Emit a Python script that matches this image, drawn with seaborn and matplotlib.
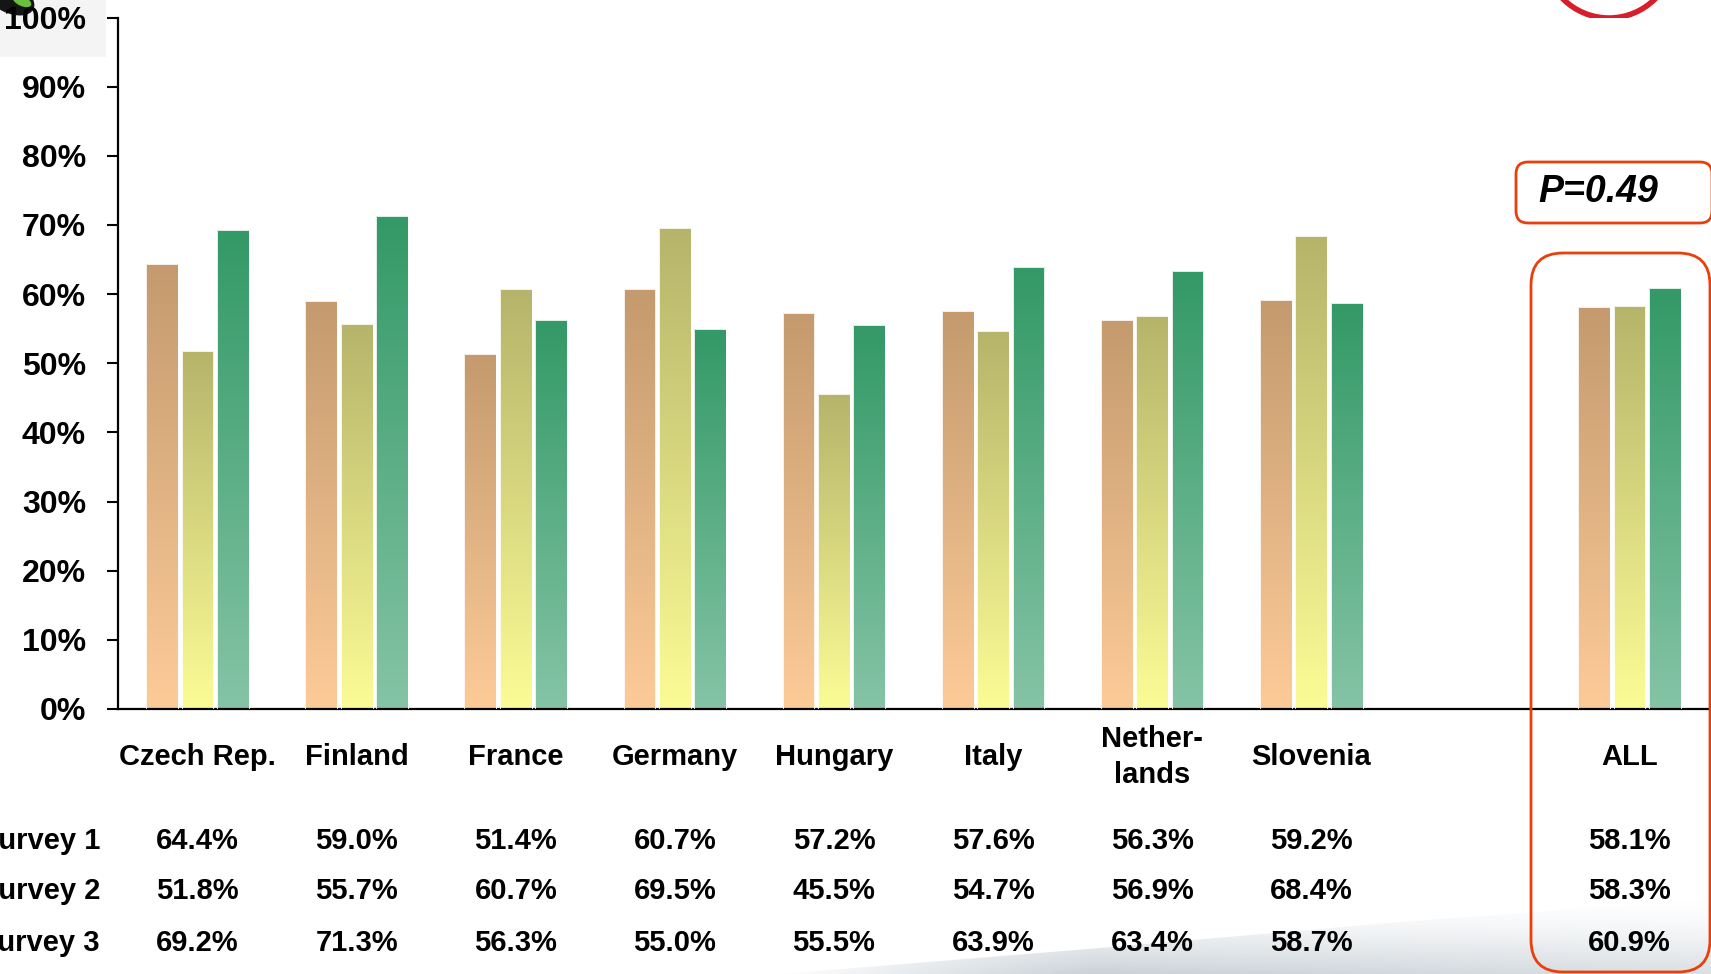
import numpy as np
import pandas as pd
import matplotlib
matplotlib.use("Agg")
import matplotlib.pyplot as plt
import seaborn as sns
from matplotlib import font_manager
from matplotlib.patches import FancyBboxPatch, Circle, Ellipse, Rectangle, Polygon
from matplotlib.transforms import IdentityTransform, blended_transform_factory
from matplotlib.colors import to_rgb

# ---------------- data ----------------
countries = ["Czech Rep.", "Finland", "France", "Germany", "Hungary",
             "Italy", "Nether-\nlands", "Slovenia", "ALL"]
surveys = ["Survey 1", "Survey 2", "Survey 3"]
survey1 = [64.4, 59.0, 51.4, 60.7, 57.2, 57.6, 56.3, 59.2, 58.1]
survey2 = [51.8, 55.7, 60.7, 69.5, 45.5, 54.7, 56.9, 68.4, 58.3]
survey3 = [69.2, 71.3, 56.3, 55.0, 55.5, 63.9, 63.4, 58.7, 60.9]
yticks = list(range(0, 101, 10))
p_label = "P=0.49"

top_colors = ["#C49A6E", "#B5B46A", "#339966"]
bottom_colors = ["#FDCB98", "#FCFC96", "#85C4A6"]

# ---------------- style ----------------
sns.set_style("ticks")
WIDE = ["Liberation Sans", "DejaVu Sans"]

# use a narrow face if one is installed, otherwise shrink the regular one
narrow_size = 21
NARROW = WIDE
try:
    fp = font_manager.FontProperties(family="Liberation Sans Narrow", weight="bold")
    path = font_manager.findfont(fp, fallback_to_default=False)
    if "Narrow" in path:
        NARROW = ["Liberation Sans Narrow"] + WIDE
        narrow_size = 24
except Exception:
    pass

plt.rcParams["font.family"] = WIDE
plt.rcParams["text.color"] = "black"
plt.rcParams["ytick.color"] = "black"
plt.rcParams["ytick.labelcolor"] = "black"

W, H = 1711, 974
fig = plt.figure(figsize=(W / 100, H / 100), dpi=100)
fig.patch.set_facecolor("white")

# background decorations
bg = fig.add_axes([0, 0, 1, 1], zorder=-1)
bg.axis("off")
bg.patch.set_alpha(0)
bg.add_patch(Rectangle((0, H - 57), 106, 57, facecolor="#F4F4F4", edgecolor="none"))
bg.add_patch(Ellipse((10, H + 2), 52, 30, angle=-25, facecolor="#151515", edgecolor="none"))
bg.add_patch(Ellipse((22, H - 1), 20, 10, angle=-25, facecolor="#6CBF3A", edgecolor="none"))
bg.add_patch(Circle((1609, H + 47), 65, facecolor="none", edgecolor="#D81E2A", linewidth=4))
swoosh = Polygon([(780, 0), (1100, 26), (1400, 52), (1711, 75), (1711, 0)],
                 closed=True, facecolor="none", edgecolor="none")
bg.add_patch(swoosh)
yy = np.linspace(0, 1, 80)[:, None]
xx = np.linspace(0, 1, 200)[None, :]
alpha = (1 - yy) ** 1.5 * np.clip(xx * 3, 0, 1) * (1 - 0.4 * xx) * 0.85
rgba = np.zeros((80, 200, 4))
rgba[..., 0] = 0.72
rgba[..., 1] = 0.76
rgba[..., 2] = 0.79
rgba[..., 3] = alpha
im = bg.imshow(rgba, extent=[780, 1711, 0, 78], origin="lower", aspect="auto",
               interpolation="bilinear")
im.set_clip_path(swoosh)
bg.set_xlim(0, W)
bg.set_ylim(0, H)

# main axes
ax_left, ax_right = 118 / W, 1709 / W
ax_bottom, ax_top = 1 - 709 / H, 1 - 17.5 / H
ax = fig.add_axes([ax_left, ax_bottom, ax_right - ax_left, ax_top - ax_bottom])

rows = []
for s, vals in zip(surveys, [survey1, survey2, survey3]):
    for c, v in zip(countries, vals):
        rows.append((c, s, v))
df = pd.DataFrame(rows, columns=["country", "survey", "value"])

order = countries[:8] + [" "] + countries[8:]
sns.barplot(data=df, x="country", y="value", hue="survey", order=order,
            hue_order=surveys, width=0.667, gap=0.1, legend=False,
            palette=top_colors, saturation=1, errorbar=None, ax=ax)

# gradient fill for each bar
grad = np.linspace(0, 1, 256)[:, None, None]
for patch in list(ax.patches):
    h = patch.get_height()
    if not np.isfinite(h) or h <= 0:
        continue
    x0, w = patch.get_x(), patch.get_width()
    c = x0 + w / 2
    off = c - round(c)
    k = 0 if off < -0.1 else (2 if off > 0.1 else 1)
    b = np.array(to_rgb(bottom_colors[k]))
    t = np.array(to_rgb(top_colors[k]))
    img = b + (t - b) * grad
    gim = ax.imshow(img, extent=[x0, x0 + w, 0, h], origin="lower", aspect="auto",
                    zorder=2, interpolation="bilinear")
    gim.set_clip_path(patch)
    patch.set_facecolor("none")
    patch.set_edgecolor("#FFFFFF")
    patch.set_linewidth(0.6)
    patch.set_zorder(3)

ax.set_xlim(-0.5, 9.5)
ax.set_ylim(0, 100)
ax.set_yticks(yticks)
ax.set_yticklabels([f"{t}%" for t in yticks], fontsize=23, fontweight="bold",
                   family=WIDE, color="black")
ax.tick_params(axis="y", length=8, width=1.5, pad=15, direction="out", color="black")
ax.tick_params(axis="x", length=0, labelbottom=False)
ax.set_xlabel("")
ax.set_ylabel("")
for side in ["top", "right"]:
    ax.spines[side].set_visible(False)
for side in ["left", "bottom"]:
    ax.spines[side].set_linewidth(1.6)
    ax.spines[side].set_color("black")
ax.grid(False)

# category labels and value table
tr = blended_transform_factory(ax.transData, fig.transFigure)
pos = [order.index(c) for c in countries]
for p, c in zip(pos, countries):
    ax.text(p, 1 - 757 / H, c, transform=tr, ha="center", va="center",
            fontsize=narrow_size, fontweight="bold", family=NARROW, linespacing=1.35,
            color="black", clip_on=False)

row_y = [841, 891, 943]
for s, vals, ry in zip(surveys, [survey1, survey2, survey3], row_y):
    fig.text(100 / W, 1 - ry / H, s, ha="right", va="center", fontsize=narrow_size,
             fontweight="bold", family=NARROW, color="black")
    for p, v in zip(pos, vals):
        ax.text(p, 1 - ry / H, f"{v:.1f}%", transform=tr, ha="center", va="center",
                fontsize=narrow_size, fontweight="bold", family=NARROW,
                color="black", clip_on=False)

# red highlight boxes
all_box = FancyBboxPatch((1531, 2), 179, 719, boxstyle="round,pad=0,rounding_size=32",
                         facecolor="none", edgecolor="#E8400C", linewidth=2,
                         transform=IdentityTransform(), zorder=10)
fig.add_artist(all_box)
p_box = FancyBboxPatch((1516, 751), 196, 61, boxstyle="round,pad=0,rounding_size=12",
                       facecolor="none", edgecolor="#E8400C", linewidth=2,
                       transform=IdentityTransform(), zorder=10)
fig.add_artist(p_box)
fig.text(1538 / W, 1 - 192 / H, p_label, ha="left", va="center", fontsize=27,
         fontweight="bold", fontstyle="italic", family=WIDE, color="black")

fig.savefig("out.png", dpi=100)
